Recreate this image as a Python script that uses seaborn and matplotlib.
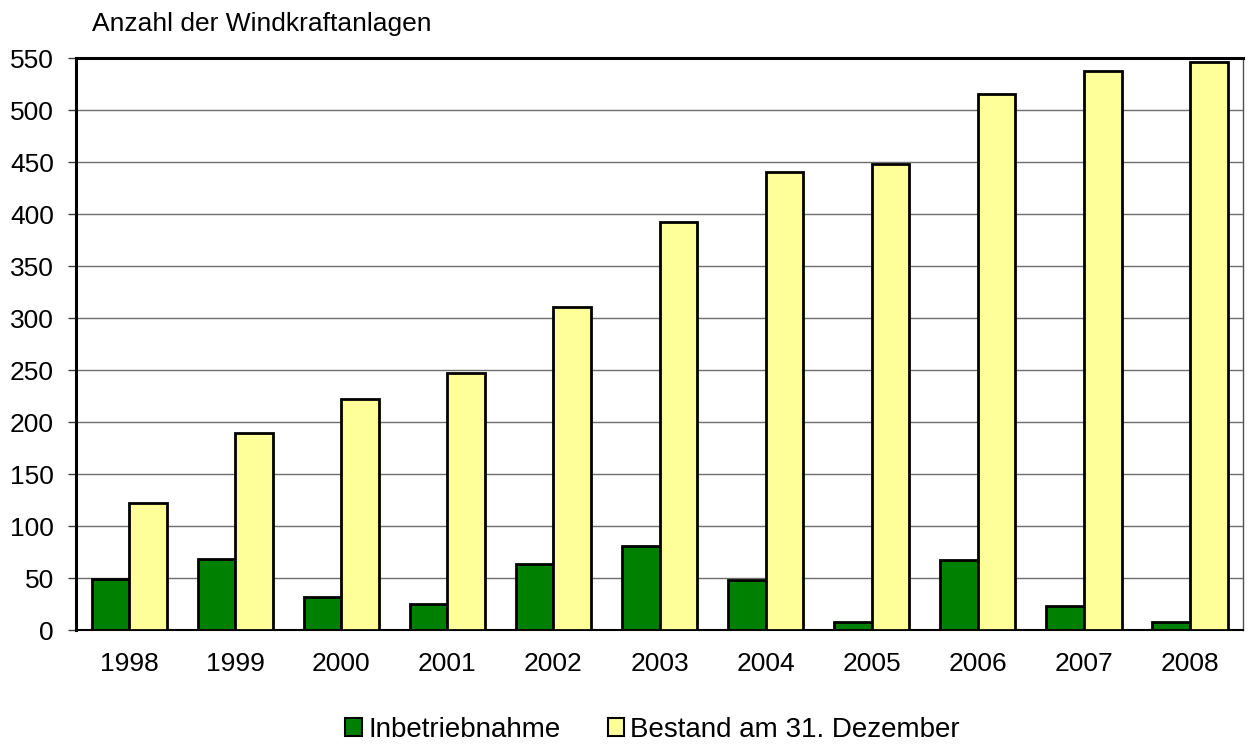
import matplotlib
matplotlib.use("Agg")
import matplotlib.pyplot as plt
import seaborn as sns
import pandas as pd
from matplotlib.patches import Patch

years = ["1998", "1999", "2000", "2001", "2002", "2003", "2004", "2005", "2006", "2007", "2008"]
inbetriebnahme = [49, 68, 32, 25, 64, 81, 48, 8, 67, 23, 8]
bestand = [122, 190, 222, 247, 311, 392, 440, 448, 515, 538, 546]
series_names = ["Inbetriebnahme", "Bestand am 31. Dezember"]
series_colors = ["#008000", "#FFFF99"]
y_ticks = [0, 50, 100, 150, 200, 250, 300, 350, 400, 450, 500, 550]

df = pd.DataFrame({
    "Jahr": years * 2,
    "Wert": inbetriebnahme + bestand,
    "Serie": [series_names[0]] * len(years) + [series_names[1]] * len(years),
})

sns.set_theme(style="white")
plt.rcParams["font.family"] = ["Liberation Sans", "DejaVu Sans"]
plt.rcParams["text.color"] = "black"
plt.rcParams["xtick.color"] = "black"
plt.rcParams["ytick.color"] = "black"

fig = plt.figure(figsize=(12.48, 7.44), dpi=100)
ax = fig.add_axes([0.061, 0.153, 0.935, 0.769])

sns.barplot(data=df, x="Jahr", y="Wert", hue="Serie", order=years,
            hue_order=series_names, palette=series_colors, width=0.71,
            edgecolor="black", linewidth=2, saturation=1, legend=False, ax=ax, zorder=3)

ax.set_xlim(-0.5, len(years) - 0.5)
ax.set_ylim(0, 550)
ax.set_yticks(y_ticks)
ax.set_yticklabels([str(t) for t in y_ticks], fontsize=19, color="black")
ax.tick_params(axis="x", labelsize=19, length=0, pad=16, labelcolor="black")
ax.tick_params(axis="y", length=6, width=1, color="#404040", direction="out", pad=10,
               left=True, labelcolor="black")
ax.set_xlabel("")
ax.set_ylabel("")
ax.grid(axis="y", color="#6e6e6e", linewidth=1, zorder=0)
ax.set_axisbelow(True)

for side in ["left", "top"]:
    ax.spines[side].set_color("black")
    ax.spines[side].set_linewidth(2.2)
ax.spines["bottom"].set_color("black")
ax.spines["bottom"].set_linewidth(1.5)
ax.spines["right"].set_color("#505050")
ax.spines["right"].set_linewidth(1)
for s in ax.spines.values():
    s.set_visible(True)

fig.text(0.074, 0.968, "Anzahl der Windkraftanlagen", fontsize=19, va="center", ha="left",
         color="black")

handles = [Patch(facecolor=c, edgecolor="black", linewidth=1.5) for c in series_colors]
leg = fig.legend(handles, series_names, loc="center", ncol=2,
                 frameon=False, fontsize=20, handlelength=0.6, handleheight=0.6,
                 handletextpad=0.22, columnspacing=1.7,
                 bbox_to_anchor=(0.523, 0.019), bbox_transform=fig.transFigure)
for t in leg.get_texts():
    t.set_color("black")

fig.savefig("out.png", dpi=100)
